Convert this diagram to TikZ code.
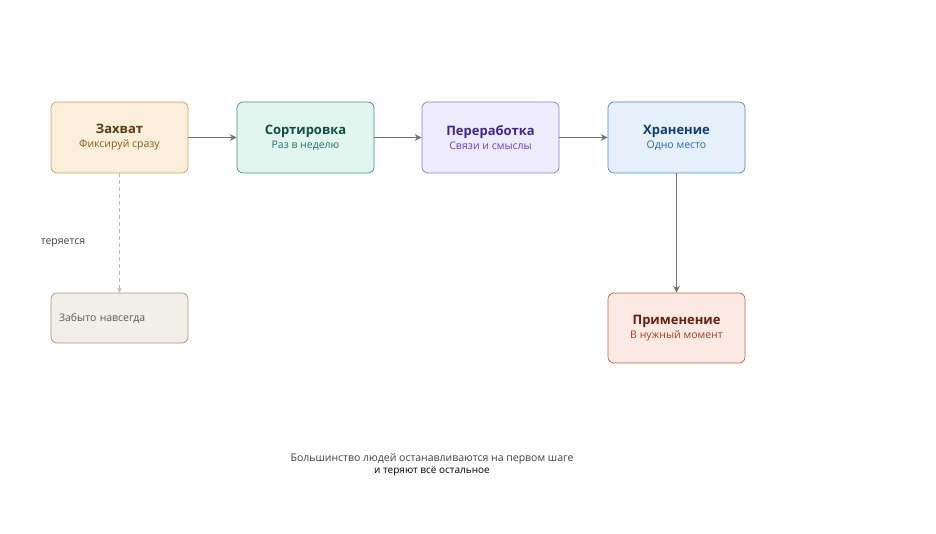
\documentclass[tikz,border=0pt]{standalone}
\usepackage{fontspec}
\setmainfont{Open Sans}
\usetikzlibrary{arrows.meta}
\definecolor{capfill}{HTML}{FBEEDB}\definecolor{capline}{HTML}{C8A060}
\definecolor{captitle}{HTML}{5A3A10}\definecolor{capsub}{HTML}{8A5A1A}
\definecolor{sortfill}{HTML}{E2F5EE}\definecolor{sortline}{HTML}{3E9A78}
\definecolor{sorttitle}{HTML}{0F5040}\definecolor{sortsub}{HTML}{1F7A5A}
\definecolor{procfill}{HTML}{EEEBFD}\definecolor{procline}{HTML}{8A7AD8}
\definecolor{proctitle}{HTML}{3A2A90}\definecolor{procsub}{HTML}{5A48C0}
\definecolor{storefill}{HTML}{E6F0FB}\definecolor{storeline}{HTML}{4A88C8}
\definecolor{storetitle}{HTML}{0F3F7A}\definecolor{storesub}{HTML}{2A66A8}
\definecolor{usefill}{HTML}{FBEAE4}\definecolor{useline}{HTML}{C0603A}
\definecolor{usetitle}{HTML}{6A2010}\definecolor{usesub}{HTML}{A0401F}
\definecolor{lostfill}{HTML}{F1EFE8}\definecolor{lostline}{HTML}{9A9890}
\definecolor{losttext}{HTML}{5A5A55}
\tikzset{
  stagebox/.style={draw, rounded corners=6pt, minimum width=137pt, line width=0.7pt, align=center},
  flow/.style={draw=gray!90!black, line width=1.2pt, -{Stealth[length=7pt,width=7pt]}},
}
\newcommand{\stagetext}[3]{{\fontsize{13}{16}\selectfont\bfseries\color{#1}#2}\\[3pt]{\fontsize{10.5}{13}\selectfont\color{#3}#3}}
\begin{document}
\begin{tikzpicture}[x=1pt,y=-1pt]
  \useasboundingbox (0,0) rectangle (936,534);
  \node (cap) [stagebox, fill=capfill, draw=capline, minimum height=71pt] at (119.5,137.5)
    {{\fontsize{13}{16}\selectfont\bfseries\color{captitle}Захват}\\[2pt]{\fontsize{10.5}{13}\selectfont\color{capsub}Фиксируй сразу}};
  \node (sort) [stagebox, fill=sortfill, draw=sortline, minimum height=71pt] at (305.5,137.5)
    {{\fontsize{13}{16}\selectfont\bfseries\color{sorttitle}Сортировка}\\[2pt]{\fontsize{10.5}{13}\selectfont\color{sortsub}Раз в неделю}};
  \node (proc) [stagebox, fill=procfill, draw=procline, minimum height=71pt] at (490.5,137.5)
    {{\fontsize{13}{16}\selectfont\bfseries\color{proctitle}Переработка}\\[2pt]{\fontsize{10.5}{13}\selectfont\color{procsub}Связи и смыслы}};
  \node (store) [stagebox, fill=storefill, draw=storeline, minimum height=71pt] at (676.5,137.5)
    {{\fontsize{13}{16}\selectfont\bfseries\color{storetitle}Хранение}\\[2pt]{\fontsize{10.5}{13}\selectfont\color{storesub}Одно место}};
  \node (use) [stagebox, fill=usefill, draw=useline, minimum height=70pt] at (676.5,328)
    {{\fontsize{13}{16}\selectfont\bfseries\color{usetitle}Применение}\\[2pt]{\fontsize{10.5}{13}\selectfont\color{usesub}В нужный момент}};
  \node (lost) [stagebox, fill=lostfill, draw=lostline, minimum height=50pt, align=left, text width=121pt] at (119.5,318)
    {\fontsize{10.5}{13}\selectfont\color{losttext}Забыто навсегда};
  \draw[flow] (cap) -- (sort);
  \draw[flow] (sort) -- (proc);
  \draw[flow] (proc) -- (store);
  \draw[flow] (store) -- (use);
  \draw[gray!55, line width=0.8pt, dash pattern=on 4pt off 3pt, -{Stealth[length=5pt,width=5pt]}] (cap) -- (lost);
  \node (lostlabel) at (63,243) {\fontsize{10.5}{13}\selectfont\color{black!75}теряется};
  \node (note) [align=center] at (432,465) {\fontsize{10.5}{26}\selectfont\color{black!75}Большинство людей останавливаются на первом шаге\\и теряют всё остальное};
\end{tikzpicture}
\end{document}
